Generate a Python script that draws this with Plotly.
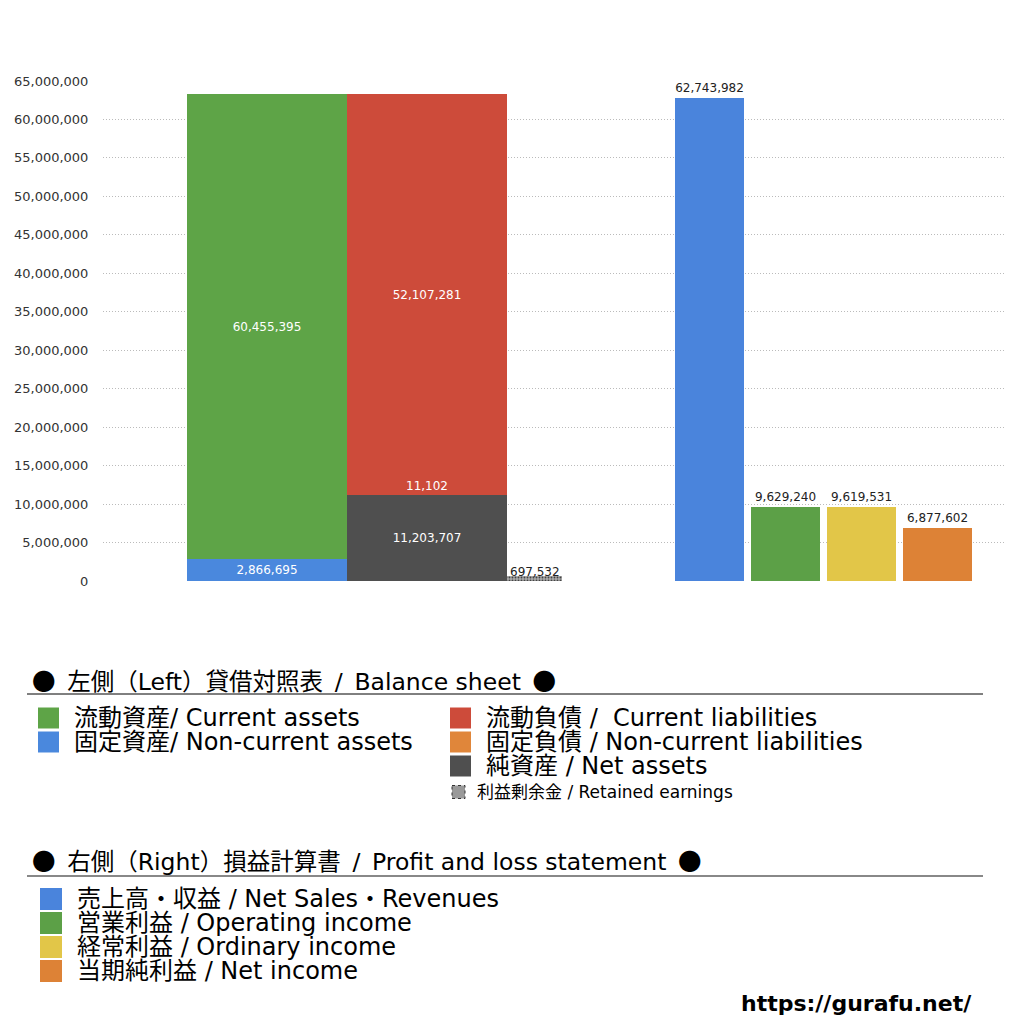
import plotly.graph_objects as go

# ---- data ----
assets_labels = ["固定資産/ Non-current assets", "流動資産/ Current assets"]
assets_values = [2866695, 60455395]

liab_labels = ["純資産 / Net assets", "固定負債 / Non-current liabilities", "流動負債 /  Current liabilities"]
liab_values = [11203707, 11102, 52107281]

retained_label = "利益剰余金 / Retained earnings"
retained_value = 697532

pl_labels = ["売上高・収益 / Net Sales・Revenues", "営業利益 / Operating income",
             "経常利益 / Ordinary income", "当期純利益 / Net income"]
pl_values = [62743982, 9629240, 9619531, 6877602]

# ---- styling ----
FONT = "DejaVu Sans, Noto Sans CJK JP"
assets_colors = ["#4a88dd", "#5ea447"]
liab_colors = ["#4f4f4f", "#e0863a", "#cd4b3a"]
pl_colors = ["#4a84dc", "#5ca047", "#e2c648", "#dd8236"]

# the page body has an 8px margin, so shift everything by that much
OFF = 8

# x positions on a pixel-like scale of the plot area
stack_x = [267, 427]
stack_w = 160
retained_x, retained_w = 534.5, 55
pl_x = [709.5, 785.5, 861.5, 937.5]
pl_w = 69

fig = go.Figure()

# left side: balance sheet, two stacked columns
for name, val, col in zip(assets_labels, assets_values, assets_colors):
    fig.add_trace(go.Bar(x=[stack_x[0]], y=[val], width=stack_w, name=name,
                         marker=dict(color=col, line=dict(width=0)),
                         texttemplate="%{y:,}", textposition="inside",
                         insidetextanchor="middle", constraintext="none",
                         textfont=dict(color="white", size=12, family=FONT)))

for name, val, col in zip(liab_labels, liab_values, liab_colors):
    fig.add_trace(go.Bar(x=[stack_x[1]], y=[val], width=stack_w, name=name,
                         marker=dict(color=col, line=dict(width=0)),
                         texttemplate="%{y:,}" if val > 1000000 else "",
                         textposition="inside", insidetextanchor="middle",
                         constraintext="none",
                         textfont=dict(color="white", size=12, family=FONT)))

fig.add_trace(go.Bar(x=[retained_x], y=[retained_value], width=retained_w, name=retained_label,
                     marker=dict(color="#9a9a9a", line=dict(width=0),
                                 pattern=dict(shape=".", fgcolor="#444", bgcolor="#aaa", size=3))))

# right side: profit and loss
for name, val, col, xp in zip(pl_labels, pl_values, pl_colors, pl_x):
    fig.add_trace(go.Bar(x=[xp], y=[val], width=pl_w, name=name,
                         marker=dict(color=col, line=dict(width=0)),
                         texttemplate="%{y:,}", textposition="outside",
                         cliponaxis=False,
                         textfont=dict(color="#222", size=12, family=FONT)))

# small labels that don't fit inside their bars
fig.add_annotation(x=stack_x[1], y=sum(liab_values[:2]), text=f"{liab_values[1]:,}",
                   yanchor="bottom", showarrow=False,
                   font=dict(color="white", size=12, family=FONT))
fig.add_annotation(x=retained_x, y=retained_value, text=f"{retained_value:,}",
                   yanchor="bottom", yshift=-5, showarrow=False,
                   font=dict(color="#222", size=12, family=FONT))

# ---- custom legend drawn in pixel space ----
def px(x):
    return (x - OFF) / 1024

def py(y):
    return 1 - (y - OFF) / 1024

DOT = "<span style=\"font-family:'Noto Sans CJK JP'\">●</span>"
SP = "\u2002"

def heading(text, y, line_y, line_color, line_w):
    fig.add_annotation(x=px(30), y=py(y), xref="paper", yref="paper",
                       text=f"{DOT}{SP}{text.replace(' / ', SP + '/' + SP)}{SP}{DOT}",
                       xanchor="left", yanchor="middle", showarrow=False,
                       font=dict(size=23.5, color="black", family=FONT))
    fig.add_shape(type="line", xref="paper", yref="paper",
                  x0=px(27), x1=px(983), y0=py(line_y), y1=py(line_y),
                  line=dict(color=line_color, width=line_w))

def item(text, color, sx, tx, y, size=21, fs=24, dash=None):
    fig.add_shape(type="rect", xref="paper", yref="paper",
                  x0=px(sx), x1=px(sx + size), y0=py(y - size / 2), y1=py(y + size / 2),
                  fillcolor=color,
                  line=dict(width=1 if dash else 0, color="#333", dash=dash or "solid"))
    fig.add_annotation(x=px(tx), y=py(y), xref="paper", yref="paper", text=text,
                       xanchor="left", yanchor="middle", showarrow=False,
                       font=dict(size=fs, color="black", family=FONT))

heading("左側（Left）貸借対照表 / Balance sheet", 680, 694, "black", 1)
item(assets_labels[1], assets_colors[1], 38, 72, 718)
item(assets_labels[0], assets_colors[0], 38, 72, 742)
item(liab_labels[2], liab_colors[2], 450, 484, 718)
item(liab_labels[1], liab_colors[1], 450, 484, 742)
item(liab_labels[0], liab_colors[0], 450, 484, 766)
item(retained_label, "#999999", 452, 475, 792, size=13, fs=17, dash="dot")

heading("右側（Right）損益計算書 / Profit and loss statement", 860, 876, "#888888", 2)
for i, (lab, col) in enumerate(zip(pl_labels, pl_colors)):
    item(lab, col, 40, 75, 899 + 24 * i, size=22)

fig.add_annotation(x=px(974), y=py(1003), xref="paper", yref="paper",
                   text="<b>https://gurafu.net/</b>", xanchor="right", yanchor="middle",
                   showarrow=False, font=dict(size=22, color="black", family=FONT))

fig.update_layout(
    template="none",
    width=1024, height=1024,
    margin=dict(l=0, r=0, t=0, b=0),
    barmode="stack",
    bargap=0,
    showlegend=False,
    plot_bgcolor="white",
    paper_bgcolor="white",
    font=dict(family=FONT, color="#333"),
    xaxis=dict(domain=[(103 - OFF) / 1024, (1006 - OFF) / 1024], range=[103, 1006],
               visible=False, automargin=False),
    yaxis=dict(domain=[1 - (581 - OFF) / 1024, 1 - (81 - OFF) / 1024], range=[0, 65000000],
               dtick=5000000, tickformat=",d", automargin=False,
               showgrid=True, gridcolor="#bbbbbb", griddash="1px,2px", gridwidth=1,
               zeroline=False, showline=False,
               ticks="outside", ticklen=11, tickcolor="rgba(0,0,0,0)",
               tickfont=dict(size=13, color="#333", family=FONT)),
)

fig.write_html("out.html")
